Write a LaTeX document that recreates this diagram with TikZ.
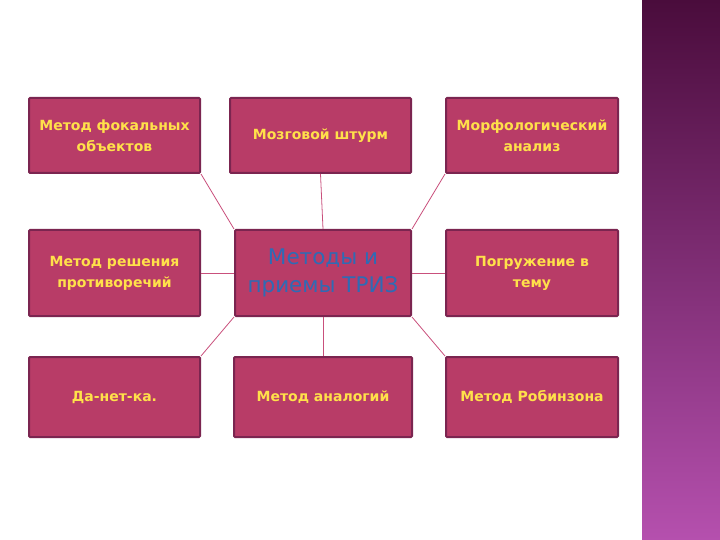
\documentclass[tikz,border=0pt]{standalone}
\usepackage{fontspec}
\setmainfont{DejaVu Sans}
\usepackage{tikz}
\usetikzlibrary{positioning}

\definecolor{boxfill}{HTML}{B83C67}
\definecolor{boxedge}{HTML}{7B2550}
\definecolor{boxtext}{HTML}{FFE14A}
\definecolor{trizblue}{HTML}{2E6BB5}
\definecolor{linkpink}{HTML}{C9507C}

\begin{document}
\begin{tikzpicture}[x=1pt,y=-1pt,
      method/.style={draw=boxedge,line width=2pt,fill=boxfill,rounded corners=1pt,
        minimum width=171pt,minimum height=75pt,align=center,
        font=\fontsize{14}{21}\selectfont\bfseries\color{boxtext}},
      hub/.style={method,minimum width=176pt,minimum height=86pt,
        font=\fontsize{21.5}{28}\selectfont\color{trizblue}},
      link/.style={draw=linkpink,line width=0.8pt},
    ]
    \useasboundingbox (0,0) rectangle (720,540);
    \shade[top color={rgb,255:red,74;green,12;blue,60},middle color={rgb,255:red,140;green,56;blue,130},
      bottom color={rgb,255:red,181;green,80;blue,174}] (642,0) rectangle (720,540);

    \node[hub] (triz) at (323,273) {Методы и\\приемы ТРИЗ};
    \node[method,minimum height=86pt,left=33pt of triz] (contr) {Метод решения\\противоречий};
    \node[method,minimum height=86pt,minimum width=172pt,right=33pt of triz] (dive) {Погружение в\\тему};
    \node[method,minimum width=181pt,above=55pt of triz,xshift=-2.5pt] (storm) {Мозговой штурм};
    \node[method,above=55pt of contr] (focal) {Метод фокальных\\объектов};
    \node[method,minimum width=172pt,above=55pt of dive] (morph) {Морфологический\\анализ};
    \node[method,minimum height=80pt,minimum width=178pt,below=39pt of triz] (analog) {Метод аналогий};
    \node[method,minimum height=80pt,below=39pt of contr] (danet) {Да-нет-ка.};
    \node[method,minimum height=80pt,minimum width=172pt,below=39pt of dive] (robin) {Метод Робинзона};

    \draw[link] (focal.south east) -- (triz.north west);
    \draw[link] (storm.south) -- (triz.north);
    \draw[link] (morph.south west) -- (triz.north east);
    \draw[link] (contr.east) -- (triz.west);
    \draw[link] (dive.west) -- (triz.east);
    \draw[link] (danet.north east) -- (triz.south west);
    \draw[link] (analog.north) -- (triz.south);
    \draw[link] (robin.north west) -- (triz.south east);
\end{tikzpicture}
\end{document}
